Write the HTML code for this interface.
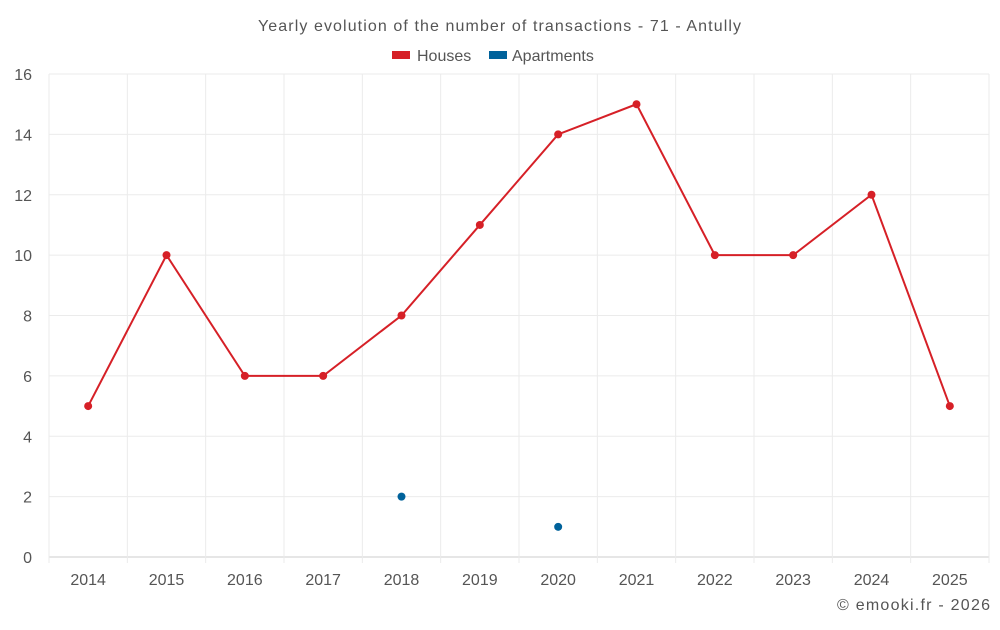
<!DOCTYPE html>
<html><head><meta charset="utf-8"><style>
body{margin:0;background:#fff;font-family:"Liberation Sans",sans-serif;}
svg text{font-family:"Liberation Sans",sans-serif;}
</style></head><body>
<svg id="chart" width="1000" height="625">
<text x="258" y="31" textLength="483" lengthAdjust="spacing" font-size="16" fill="#555">Yearly evolution of the number of transactions - 71 - Antully</text>
<g>
<g><rect x="392" y="51" width="18" height="8" fill="#d62027"/><text x="417" y="61" font-size="16" fill="#555">Houses</text></g>
<g><rect x="489" y="51" width="18" height="8" fill="#00629b"/><text x="512" y="61" font-size="16" fill="#555">Apartments</text></g>
</g>
<g id="grid"></g>
<g id="axes"></g>
<g id="series"></g>
<text x="837" y="610" textLength="153" lengthAdjust="spacing" font-size="16" fill="#555">© emooki.fr - 2026</text>
</svg>
<script>
const years=["2014","2015","2016","2017","2018","2019","2020","2021","2022","2023","2024","2025"];
const houses=[5,10,6,6,8,11,14,15,10,10,12,5];
const apartments=[null,null,null,null,2,null,1,null,null,null,null,null];
const yTicks=[0,2,4,6,8,10,12,14,16];
const L=49,R=989,T=74,B=557,yMax=16;
const bw=(R-L)/years.length;
const xs=i=>L+bw*(i+0.5);
const ys=v=>B-(B-T)*v/yMax;
const NS="http://www.w3.org/2000/svg";
function mk(p,tag,at){const e=document.createElementNS(NS,tag);for(const k in at)e.setAttribute(k,at[k]);p.appendChild(e);return e;}
const grid=document.getElementById('grid'),axes=document.getElementById('axes'),ser=document.getElementById('series');
yTicks.forEach(v=>{
 const l=mk(grid,'line',{x1:L,x2:R,y1:ys(v),y2:ys(v),stroke:v===0?'#ccc':'#ebebeb','stroke-width':1});
 
 
 const t=mk(axes,'text',{x:32,y:ys(v)+6,'text-anchor':'end','font-size':16,fill:'#555'});
 t.textContent=v;
 
 
});
for(let i=0;i<=years.length;i++){
 const x=L+bw*i;
 const l=mk(grid,'line',{x1:x,x2:x,y1:T,y2:B+6,stroke:'#ebebeb','stroke-width':1});
 
 
}
years.forEach((y,i)=>{
 const t=mk(axes,'text',{x:xs(i),y:585,'text-anchor':'middle','font-size':16,fill:'#555'});
 t.textContent=y;
 
 
});
const pts=houses.map((v,i)=>xs(i)+','+ys(v)).join(' ');
const pl=mk(ser,'polyline',{points:pts,fill:'none',stroke:'#d62027','stroke-width':2});


houses.forEach((v,i)=>{
 const c=mk(ser,'circle',{cx:xs(i),cy:ys(v),r:4,fill:'#d62027'});
 
 
});
apartments.forEach((v,i)=>{
 if(v===null)return;
 const c=mk(ser,'circle',{cx:xs(i),cy:ys(v),r:4,fill:'#00629b'});
 
 
});
</script>
</body></html>
